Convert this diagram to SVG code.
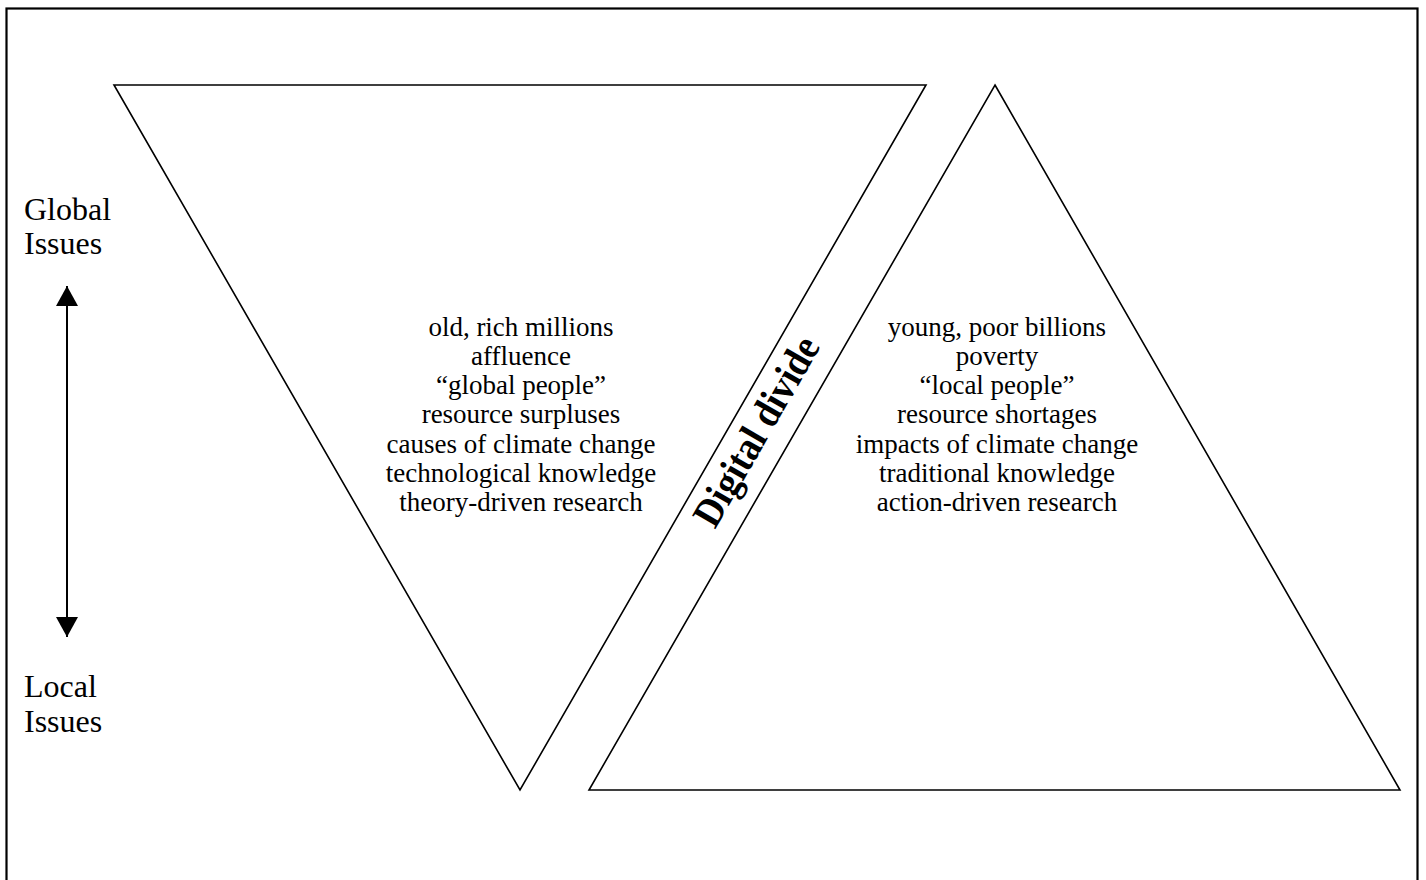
<svg xmlns="http://www.w3.org/2000/svg" width="1426" height="880" viewBox="0 0 1426 880">
<style>
.shape{fill:none;stroke:#000;stroke-width:1.6;stroke-linejoin:miter}
.t{font-family:"Liberation Serif","Times New Roman",serif;font-size:27px;fill:#000;text-anchor:middle}
.side{font-family:"Liberation Serif","Times New Roman",serif;font-size:32px;fill:#000}
.dd{font-family:"Liberation Serif","Times New Roman",serif;font-size:41px;font-weight:bold;fill:#000;text-anchor:middle}
</style>
<defs>
<marker id="ah" viewBox="0 0 10 10" refX="10" refY="5" markerWidth="20" markerHeight="22" markerUnits="userSpaceOnUse" orient="auto-start-reverse" preserveAspectRatio="none">
<path d="M0,0 L10,5 L0,10 Z" fill="#000"/>
</marker>
</defs>
<rect width="1426" height="880" fill="#fff"/>
<rect id="frame" x="6.5" y="8.5" width="1411" height="884" fill="none" stroke="#000" stroke-width="2.2"/>
<g id="global-triangle">
<polygon class="shape" points="114,85 926,85 520,790"/>
<text class="t" x="521" y="336">old, rich millions</text>
<text class="t" x="521" y="365">affluence</text>
<text class="t" x="521" y="394">“global people”</text>
<text class="t" x="521" y="423">resource surpluses</text>
<text class="t" x="521" y="453">causes of climate change</text>
<text class="t" x="521" y="482">technological knowledge</text>
<text class="t" x="521" y="511">theory-driven research</text>
</g>
<g id="local-triangle">
<polygon class="shape" points="995,85 1400,790 589,790"/>
<text class="t" x="997" y="336">young, poor billions</text>
<text class="t" x="997" y="365">poverty</text>
<text class="t" x="997" y="394">“local people”</text>
<text class="t" x="997" y="423">resource shortages</text>
<text class="t" x="997" y="453">impacts of climate change</text>
<text class="t" x="997" y="482">traditional knowledge</text>
<text class="t" x="997" y="511">action-driven research</text>
</g>
<g id="digital-divide">
<text class="dd" transform="translate(768,438) rotate(-60)" x="0" y="0" textLength="212" lengthAdjust="spacingAndGlyphs">Digital divide</text>
</g>
<g id="global-label">
<text class="side" x="24" y="220">Global</text>
<text class="side" x="24" y="254">Issues</text>
</g>
<g id="local-label">
<text class="side" x="24" y="697">Local</text>
<text class="side" x="24" y="732">Issues</text>
</g>
<g id="connectors">
<line x1="67" y1="286" x2="67" y2="637" stroke="#000" stroke-width="2" marker-start="url(#ah)" marker-end="url(#ah)"/>
</g>
</svg>
